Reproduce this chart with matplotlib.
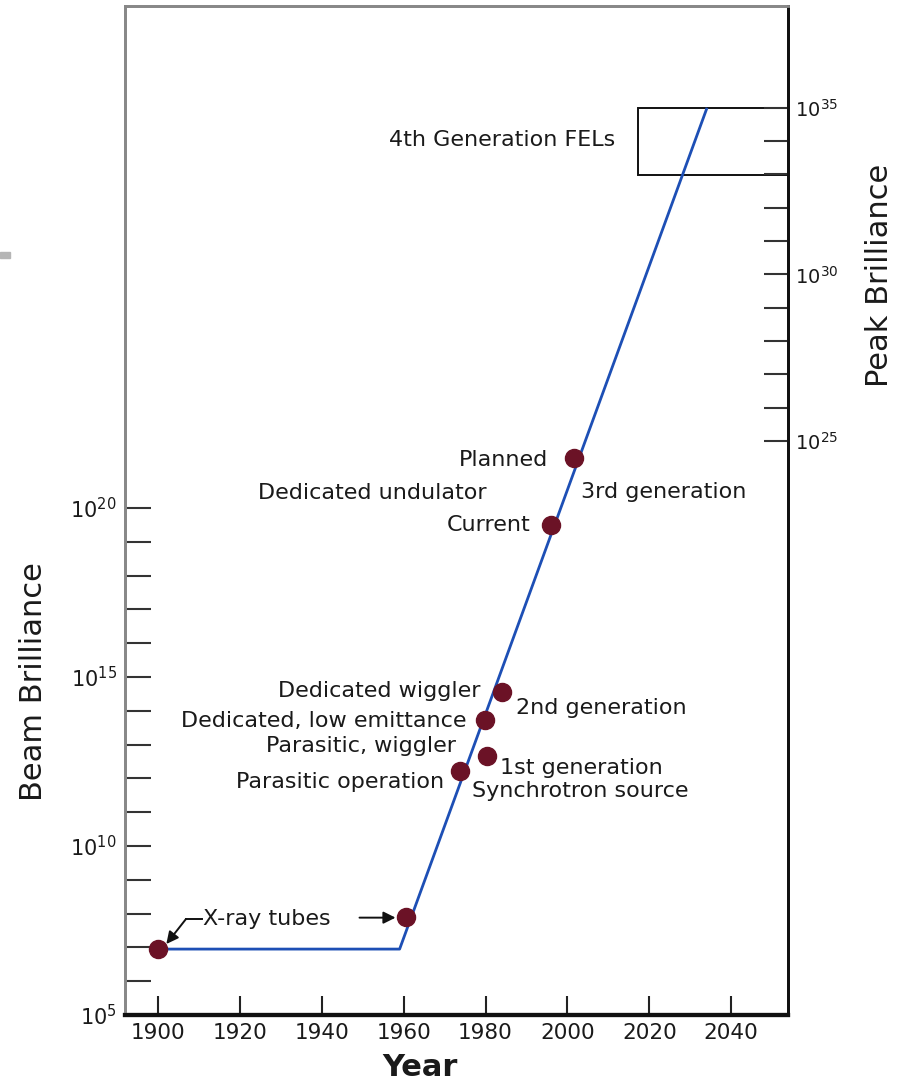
import numpy as np
import matplotlib
matplotlib.use("Agg")
import matplotlib.pyplot as plt
from matplotlib.patches import Rectangle

# Brilliance trend line (year, log10 brilliance)
line_years = [1900, 1959, 2034]
line_logb = [6.95, 6.95, 31.8]

# Sources (year, log10 brilliance)
pt_years = [1900, 1960.6, 1973.8, 1980.4, 1979.9, 1984.0, 1996.0, 2001.6]
pt_logb = [6.95, 7.90, 12.22, 12.66, 13.73, 14.56, 19.50, 21.48]

# Labels: text, year, log10 y, horizontal alignment
labels = ["4th Generation FELs", "Planned", "Dedicated undulator", "3rd generation",
          "Current", "Dedicated wiggler", "2nd generation", "Dedicated, low emittance",
          "Parasitic, wiggler", "Parasitic operation", "1st generation",
          "Synchrotron source", "X-ray tubes"]
label_years = [2011.7, 1995.3, 1952.3, 2003.3, 1990.9, 1978.7, 1987.5, 1975.3,
               1972.8, 1969.9, 1983.6, 1976.7, 1911.0]
label_logb = [30.89, 21.42, 20.44, 20.47, 19.50, 14.59, 14.08, 13.70,
              12.96, 11.89, 12.31, 11.63, 7.84]
label_ha = ["right", "right", "center", "left", "right", "right", "left", "right",
            "right", "right", "left", "left", "left"]

# FEL box (year range, log10 range)
fel_years = [2017.3, 2060]
fel_logb = [29.85, 31.83]

year_ticks = [1900, 1920, 1940, 1960, 1980, 2000, 2020, 2040]
left_decades = list(range(5, 21))
left_labelled = [5, 10, 15, 20]
right_decades = list(range(25, 36))
right_labelled = [25, 30, 35]

FS = 16
txt = "#1a1a1a"


def p10(v):
    return 10.0 ** v


fig = plt.figure(figsize=(9.05, 10.82), dpi=100)
ax = fig.add_axes([125 / 905, 1 - 1015 / 1082, 663 / 905, 1009 / 1082])

ax.set_yscale("log")
ax.set_xlim(1891.9, 2053.9)
ax.set_ylim(p10(5), p10(34.85))

ax.plot(line_years, [p10(v) for v in line_logb], color="#1d4fb5", lw=2.0, zorder=2)
ax.plot(pt_years, [p10(v) for v in pt_logb], "o", color="#6b1226", ms=13,
        mec="#6b1226", zorder=3, clip_on=False)

for t, xv, yv, ha in zip(labels, label_years, label_logb, label_ha):
    ax.text(xv, p10(yv), t, ha=ha, va="center", fontsize=FS, color=txt)

# FEL box
ax.add_patch(Rectangle((fel_years[0], p10(fel_logb[0])), fel_years[1] - fel_years[0],
                       p10(fel_logb[1]) - p10(fel_logb[0]), fill=False,
                       ec="#111111", lw=1.4, zorder=1))

# X-ray tube arrows
ax.plot([1910.6, 1906.8], [p10(7.84), p10(7.84)], color="#111111", lw=1.4)
ax.annotate("", xy=(1902.0, p10(7.10)), xytext=(1906.8, p10(7.84)),
            arrowprops=dict(arrowstyle="-|>", color="#111111", lw=1.4,
                            mutation_scale=18, shrinkA=0, shrinkB=0))
ax.annotate("", xy=(1958.0, p10(7.88)), xytext=(1949.2, p10(7.88)),
            arrowprops=dict(arrowstyle="-|>", color="#111111", lw=1.4,
                            mutation_scale=18, shrinkA=0, shrinkB=0))

# left axis ticks
ax.set_yticks([p10(d) for d in left_decades])
ax.set_yticklabels([r"$\mathregular{10^{%d}}$" % d if d in left_labelled else ""
                    for d in left_decades], fontsize=15, color=txt)
ax.yaxis.set_minor_locator(matplotlib.ticker.NullLocator())
ax.tick_params(axis="y", direction="in", length=19, width=1.5, color="#333333", pad=6)

ax.set_xticks(year_ticks)
ax.set_xticklabels([str(y) for y in year_ticks], fontsize=15.5, color=txt)
ax.tick_params(axis="x", direction="in", length=14, width=1.5, color="#222222", pad=6)

ax.set_ylabel("Beam Brilliance", fontsize=22, color=txt)
ax.yaxis.set_label_coords((48 - 125) / 663, 1 - (682 - 6) / 1009)
ax.set_xlabel("Year", fontsize=22, fontweight="bold", color=txt)
ax.xaxis.set_label_coords((420 - 125) / 663, -(1053 - 1015) / 1009)

# right axis (peak brilliance)
ax2 = ax.twinx()
ax2.set_yscale("log")
ax2.set_ylim(p10(7.76), p10(38.06))
ax2.set_yticks([p10(d) for d in right_decades])
ax2.set_yticklabels([r"$\mathregular{10^{%d}}$" % d if d in right_labelled else ""
                     for d in right_decades], fontsize=14, color=txt)
ax2.yaxis.set_minor_locator(matplotlib.ticker.NullLocator())
ax2.tick_params(axis="y", direction="in", length=17, width=1.5, color="#333333", pad=5)
ax2.set_ylabel("Peak Brilliance", fontsize=22, color=txt)
ax2.yaxis.set_label_coords((865 - 125) / 663, 1 - (275 - 6) / 1009)

for a in (ax, ax2):
    a.spines["left"].set_color("#888888")
    a.spines["top"].set_color("#888888")
    a.spines["left"].set_linewidth(2)
    a.spines["top"].set_linewidth(2)
    a.spines["right"].set_color("#111111")
    a.spines["right"].set_linewidth(2)
    a.spines["bottom"].set_color("#111111")
    a.spines["bottom"].set_linewidth(3)

# small grey slide mark at left edge
fig.patches.append(Rectangle((0, 1 - 258 / 1082), 10 / 905, 6 / 1082,
                             transform=fig.transFigure, color="#b5b5b5"))

fig.savefig("out.png", dpi=100)
